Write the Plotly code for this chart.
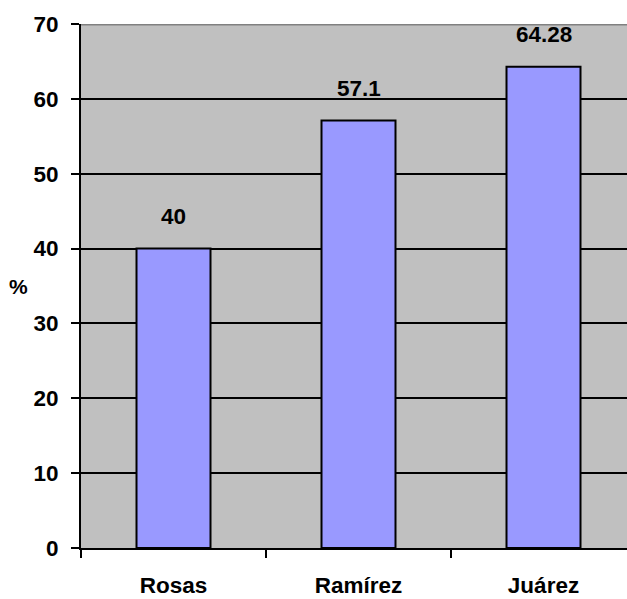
import plotly.graph_objects as go

categories = ["Rosas", "Ramírez", "Juárez"]
values = [40, 57.1, 64.28]
value_labels = ["40", "57.1", "64.28"]
y_ticks = [0, 10, 20, 30, 40, 50, 60, 70]

FONT = dict(family="Liberation Sans, Arial, sans-serif", size=22.5, color="black", weight="bold")

fig = go.Figure()
fig.add_trace(go.Bar(
    x=categories, y=values,
    marker=dict(color="#9999FF", line=dict(color="black", width=2)),
    width=0.4,
))

for c, v, t in zip(categories, values, value_labels):
    fig.add_annotation(x=c, y=v, text=t, showarrow=False, yanchor="bottom",
                       yshift=18, font=FONT)

fig.add_annotation(x=-0.1136, xref="paper", y=35, yref="y", text="%", showarrow=False,
                   xanchor="center", yanchor="middle", font=dict(FONT, size=21))

fig.add_shape(type="line", xref="paper", x0=0, x1=1, yref="y", y0=70, y1=70,
              line=dict(color="#808080", width=3), layer="above")

fig.update_layout(
    width=627, height=599,
    margin=dict(l=81, r=0, t=24, b=51, autoexpand=False),
    paper_bgcolor="white", plot_bgcolor="#C0C0C0",
    showlegend=False,
    font=FONT,
    xaxis=dict(
        range=[-0.5, -0.5 + 546 / 185], automargin=False,
        showgrid=False, showline=True, linecolor="black", linewidth=2,
        ticks="outside", ticklen=8, tickwidth=2, tickcolor="black",
        tickson="boundaries", ticklabelstandoff=16,
        tickfont=FONT, fixedrange=True,
    ),
    yaxis=dict(
        range=[0, 70], tickvals=y_ticks, automargin=False,
        showgrid=True, gridcolor="black", gridwidth=2,
        showline=True, linecolor="black", linewidth=2, zeroline=False,
        ticks="outside", ticklen=8, tickwidth=2, tickcolor="black",
        ticklabelstandoff=8, tickfont=FONT,
    ),
)

fig.write_html("out.html")
